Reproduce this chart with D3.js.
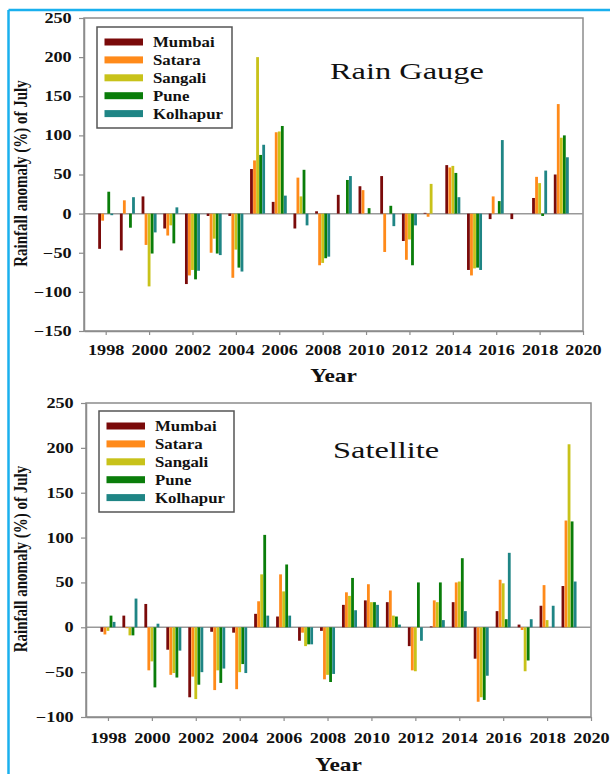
<!DOCTYPE html>
<html>
<head>
<meta charset="utf-8">
<script src="https://cdn.jsdelivr.net/npm/d3@7"></script>
<style>
  body { margin: 0; background: #fff; }
  svg { display: block; }
  text { font-family: "Liberation Serif", "Times New Roman", serif; }
</style>
</head>
<body>
<svg id="chart" width="610" height="774"></svg>
<script>
// years and stations
const years = d3.range(1998, 2020);
const stations = ["Mumbai", "Satara", "Sangali", "Pune", "Kolhapur"];
const colors = ["#7a0a0a", "#ff8a1a", "#c8c21a", "#0a7d0a", "#1f8585"];
const xTicks = d3.range(1998, 2021, 2);

// Rain gauge anomalies (%)
const rgMumbai   = [-45, -47, 22, -19, -90, -3, -3, 57, 15, -19, 3, 24, 35, 48, -35, 1, 62, -72, -7, -7, 20, 50];
const rgSatara   = [-9, 17, -40, -28, -79, -50, -82, 68, 104, 46, -66, 0, 30, -49, -59, -4, 59, -79, 22, 0, 47, 140];
const rgSangali  = [0, 0, -93, -15, -72, -32, -46, 200, 105, 22, -63, 0, 0, 0, -33, 38, 61, -70, 0, 0, 39, 97];
const rgPune     = [28, -18, -51, -38, -84, -51, -69, 75, 112, 56, -57, 43, 7, 10, -66, 0, 52, -69, 16, 0, -3, 100];
const rgKolhapur = [-2, 21, -24, 8, -73, -53, -74, 88, 23, -15, -55, 48, 0, -16, -15, 0, 21, -72, 94, 0, 55, 72];
const rgTicks = d3.range(-150, 251, 50);

// Satellite anomalies (%)
const satMumbai   = [-5, 13, 26, -25, -78, -5, -6, 15, 12, -15, -4, 25, 30, 28, -21, 1, 28, -35, 18, 3, 24, 46];
const satSatara   = [-8, -1, -48, -53, -55, -70, -69, 29, 59, -6, -58, 39, 48, 41, -48, 30, 50, -83, 53, -3, 47, 119];
const satSangali  = [-4, -9, -38, -51, -80, -48, -50, 59, 40, -21, -53, 35, 28, 13, -49, 28, 51, -78, 49, -49, 8, 204];
const satPune     = [13, -9, -67, -56, -64, -62, -41, 103, 70, -19, -61, 55, 28, 12, 50, 50, 77, -81, 9, -37, 0, 118];
const satKolhapur = [6, 32, 4, -26, -50, -46, -51, 13, 13, -19, -52, 19, 25, 3, -15, 8, 18, -54, 83, 9, 24, 51];
const satTicks = d3.range(-100, 251, 50);

const svg = d3.select("#chart");
const SX = 1.3; // the source picture is stretched sideways

// outer blue frame
svg.append("line").attr("x1", 8.5).attr("x2", 610).attr("y1", 10).attr("y2", 10)
  .attr("stroke", "#1ab0ee").attr("stroke-width", 2.5);
svg.append("line").attr("x1", 8.5).attr("x2", 8.5).attr("y1", 10).attr("y2", 774)
  .attr("stroke", "#1ab0ee").attr("stroke-width", 2.5);

function drawChart(cfg) {
  const series = cfg.series;
  const x = d3.scaleLinear().domain([1997, 2020]).range([cfg.left, cfg.right]);
  const y = d3.scaleLinear().domain(d3.extent(cfg.yTicks)).range([cfg.bottom, cfg.top]);
  const sub = d3.scaleBand().domain(stations).range([-7.5, 7.5]).paddingInner(0.08);

  const g = svg.append("g");

  // plot frame
  g.append("rect")
    .attr("x", cfg.left).attr("y", cfg.top)
    .attr("width", cfg.right - cfg.left).attr("height", cfg.bottom - cfg.top)
    .attr("fill", "#fff").attr("stroke", "#8c8c8c").attr("stroke-width", 1.5);

  // zero line
  g.append("line")
    .attr("x1", cfg.left).attr("x2", cfg.right)
    .attr("y1", y(0)).attr("y2", y(0))
    .attr("stroke", "#999").attr("stroke-width", 1.5);

  // bars
  stations.forEach((s, si) => {
    g.append("g").selectAll("rect")
      .data(series[si].map((v, i) => ({ year: years[i], v: v })))
      .join("rect")
        .attr("x", d => x(d.year) + sub(s))
        .attr("width", sub.bandwidth())
        .attr("y", d => y(Math.max(0, d.v)))
        .attr("height", d => Math.abs(y(d.v) - y(0)))
        .attr("fill", colors[si]);
  });

  // axes
  const yAxis = g.append("g")
    .attr("transform", `translate(${cfg.left},0)`)
    .call(d3.axisLeft(y).tickValues(cfg.yTicks).tickSize(5).tickSizeOuter(0).tickPadding(4.5));
  yAxis.selectAll("text")
    .attr("transform", `scale(${SX},1)`)
    .attr("font-size", 14).attr("font-weight", "bold").attr("fill", "#111");

  const xAxis = g.append("g")
    .attr("transform", `translate(0,${cfg.bottom})`)
    .call(d3.axisBottom(x).tickValues(xTicks).tickFormat(d3.format("d")).tickSize(4).tickSizeOuter(0).tickPadding(cfg.xPad));
  xAxis.selectAll("text")
    .attr("transform", `scale(${SX},1)`)
    .attr("font-size", 14).attr("font-weight", "bold").attr("fill", "#111");

  [yAxis, xAxis].forEach(a => {
    a.select(".domain").attr("stroke", "#8c8c8c").attr("stroke-width", 1.5);
    a.selectAll(".tick line").attr("stroke", "#8c8c8c").attr("stroke-width", 1.2);
  });

  // axis titles
  svg.append("text")
    .attr("transform", `translate(${(cfg.left + cfg.right) / 2},${cfg.yearY}) scale(${SX},1)`)
    .attr("text-anchor", "middle")
    .attr("font-size", 18).attr("font-weight", "bold").attr("fill", "#111")
    .text("Year");

  svg.append("text")
    .attr("transform", `translate(27,${(cfg.top + cfg.bottom) / 2 - 1}) rotate(-90) scale(1,${SX})`)
    .attr("text-anchor", "middle")
    .attr("font-size", 15).attr("font-weight", "bold").attr("fill", "#111")
    .text("Rainfall anomaly (%) of July");

  // title
  svg.append("text")
    .attr("transform", `translate(${cfg.titleX},${cfg.titleY}) scale(1.35,1)`)
    .attr("font-size", 24).attr("fill", "#111")
    .text(cfg.title);

  // legend
  const lg = svg.append("g").attr("transform", `translate(${cfg.legX},${cfg.legY})`);
  lg.append("rect")
    .attr("width", 135).attr("height", 101)
    .attr("fill", "#fff").attr("stroke", "#555").attr("stroke-width", 1.5);
  stations.forEach((s, si) => {
    const ry = 15 + si * 17.9;
    lg.append("rect")
      .attr("x", 7.5).attr("y", ry - 3.5).attr("width", 38.5).attr("height", 7)
      .attr("fill", colors[si]);
    lg.append("text")
      .attr("transform", `translate(56,${ry}) scale(1.2,1)`)
      .attr("dy", "0.35em")
      .attr("font-size", 14).attr("font-weight", "bold").attr("fill", "#111")
      .text(s);
  });
}

drawChart({
  series: [rgMumbai, rgSatara, rgSangali, rgPune, rgKolhapur],
  yTicks: rgTicks,
  left: 84, right: 583, top: 18, bottom: 331,
  xPad: 10, yearY: 382,
  title: "Rain Gauge", titleX: 330, titleY: 79,
  legX: 97, legY: 27
});

drawChart({
  series: [satMumbai, satSatara, satSangali, satPune, satKolhapur],
  yTicks: satTicks,
  left: 86, right: 591, top: 403, bottom: 717,
  xPad: 12, yearY: 771,
  title: "Satellite", titleX: 333, titleY: 458,
  legX: 99, legY: 411
});
</script>
</body>
</html>
